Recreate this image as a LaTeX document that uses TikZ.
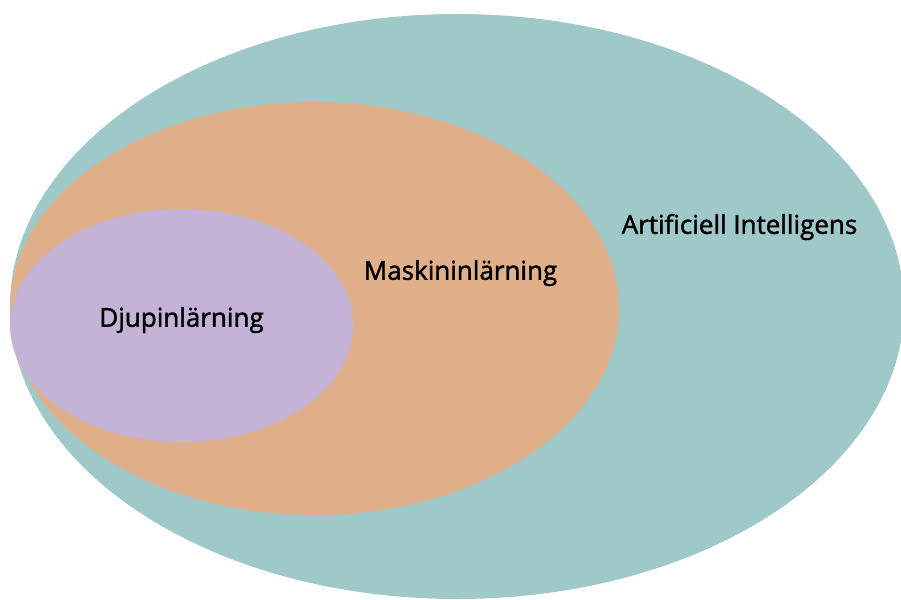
\documentclass[tikz,border=0pt]{standalone}
\usepackage{fontspec}
\setmainfont{Open Sans}
\newfontfamily\lblfont{Open Sans}[FakeBold=1.6]
\definecolor{aiteal}{HTML}{9FC9C8}
\definecolor{mlorange}{HTML}{DFB08A}
\definecolor{dlpurple}{HTML}{C2B3D7}
\begin{document}
\begin{tikzpicture}[x=1pt,y=-1pt,
  lbl/.style={font=\lblfont\fontsize{26}{30}\selectfont, text=black, inner sep=0pt}]
\useasboundingbox (0,0) rectangle (901,599);
\begin{scope}
\clip (0,0) rectangle (901,599);
\fill[aiteal] (457,306.5) ellipse [x radius=447, y radius=292.5];
\fill[mlorange] (314.5,308.5) ellipse [x radius=304.5, y radius=206.5];
\fill[dlpurple] (181.5,325.5) ellipse [x radius=171.5, y radius=116.5];
\end{scope}
\node[lbl] (ai) at (739.5,227) {Artificiell Intelligens};
\node[lbl] (ml) at (460.5,273) {Maskininlärning};
\node[lbl] (dl) at (181.5,320) {Djupinlärning};
\end{tikzpicture}
\end{document}
